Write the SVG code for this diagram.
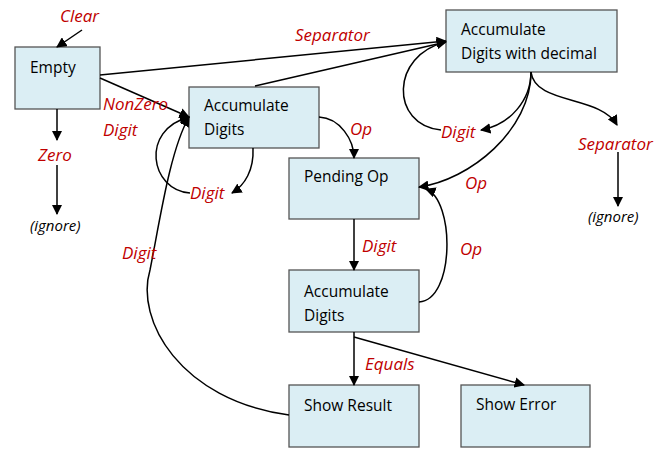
<svg xmlns="http://www.w3.org/2000/svg" width="665" height="456" viewBox="0 0 665 456">
<defs>
<marker id="a" viewBox="0 0 10 10" refX="9" refY="5" markerWidth="7" markerHeight="7" orient="auto"><path d="M0,0L10,5L0,10z" fill="#000"/></marker>
<style>
.n{fill:#dbeef4;stroke:#555;stroke-width:1.3}
.t{font-family:"Open Sans","Liberation Sans",sans-serif;font-size:15.5px;fill:#000}
.l{font-family:"Open Sans","Liberation Sans",sans-serif;font-size:17px;font-style:italic;fill:#c00000}
.i{font-family:"Open Sans","Liberation Sans",sans-serif;font-size:15px;font-style:italic;fill:#000}
.c{fill:none;stroke:#000;stroke-width:1.5}
</style>
</defs>
<rect width="665" height="456" fill="#fff"/>
<g id="empty"><rect class="n" x="15" y="47" width="85" height="62"/><text class="t" x="30" y="73">Empty</text></g>
<g id="acc1"><rect class="n" x="189" y="87" width="130" height="61"/><text class="t" x="204" y="111">Accumulate</text><text class="t" x="204" y="135">Digits</text></g>
<g id="accdec"><rect class="n" x="446" y="10" width="171" height="62"/><text class="t" x="461" y="35">Accumulate</text><text class="t" x="461" y="59">Digits with decimal</text></g>
<g id="pending"><rect class="n" x="289" y="158" width="130" height="61"/><text class="t" x="304" y="182">Pending Op</text></g>
<g id="acc2"><rect class="n" x="289" y="270" width="130" height="62"/><text class="t" x="304" y="297">Accumulate</text><text class="t" x="304" y="321">Digits</text></g>
<g id="result"><rect class="n" x="289" y="385" width="130" height="62"/><text class="t" x="304" y="411">Show Result</text></g>
<g id="error"><rect class="n" x="461" y="385" width="129" height="62"/><text class="t" x="476" y="410">Show Error</text></g>
<g id="connectors">
<path class="c" marker-end="url(#a)" d="M82,30L57,47"/>
<path class="c" marker-end="url(#a)" d="M100,78L189,117"/>
<path class="c" marker-end="url(#a)" d="M100,75L446,41"/>
<path class="c" d="M255,86L446,42"/>
<path class="c" marker-end="url(#a)" d="M57,109L57,140"/>
<path class="c" marker-end="url(#a)" d="M57,165L57,214"/>
<path class="c" marker-end="url(#a)" d="M253,148C254,170 245,185 232,193"/>
<path class="c" marker-end="url(#a)" d="M190,193C150,190 140,130 189,117"/>
<path class="c" marker-end="url(#a)" d="M319,117C340,118 354,140 354,158"/>
<path class="c" marker-end="url(#a)" d="M531,72C531,100 510,125 481,130"/>
<path class="c" marker-end="url(#a)" d="M441,130C390,125 390,55 446,42"/>
<path class="c" marker-end="url(#a)" d="M531,72C531,130 470,180 419,187"/>
<path class="c" marker-end="url(#a)" d="M531,72C535,105 600,95 617,125"/>
<path class="c" marker-end="url(#a)" d="M618,152L618,206"/>
<path class="c" marker-end="url(#a)" d="M354,219L354,270"/>
<path class="c" marker-end="url(#a)" d="M419,302C455,300 455,200 426,189"/>
<path class="c" marker-end="url(#a)" d="M354,332L354,385"/>
<path class="c" marker-end="url(#a)" d="M354,337L524,385"/>
<path class="c" marker-end="url(#a)" d="M289,415C180,400 135,320 150,270C160,220 170,150 189,117"/>
</g>
<g id="labels">
<text class="l" x="60" y="22">Clear</text>
<text class="l" x="295" y="41">Separator</text>
<text class="l" x="103" y="110">NonZero</text>
<text class="l" x="103" y="136">Digit</text>
<text class="l" x="38" y="161">Zero</text>
<text class="i" x="30" y="231">(ignore)</text>
<text class="l" x="190" y="199">Digit</text>
<text class="l" x="350" y="135">Op</text>
<text class="l" x="441" y="138">Digit</text>
<text class="l" x="465" y="189">Op</text>
<text class="l" x="578" y="150">Separator</text>
<text class="i" x="588" y="222">(ignore)</text>
<text class="l" x="362" y="252">Digit</text>
<text class="l" x="460" y="255">Op</text>
<text class="l" x="365" y="370">Equals</text>
<text class="l" x="122" y="259">Digit</text>
</g>
</svg>
